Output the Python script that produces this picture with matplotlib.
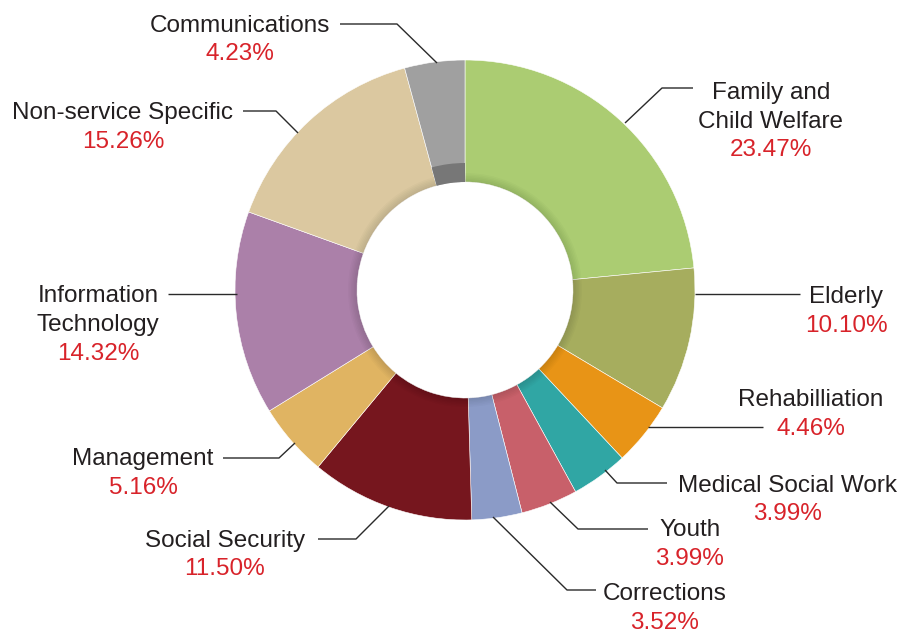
import numpy as np
import matplotlib
matplotlib.use('Agg')
import matplotlib.pyplot as plt
from matplotlib.patches import Wedge

# Data
categories = ['Family and\nChild Welfare', 'Elderly', 'Rehabilliation',
              'Medical Social Work', 'Youth', 'Corrections', 'Social Security',
              'Management', 'Information\nTechnology', 'Non-service Specific',
              'Communications']
shares = [23.47, 10.10, 4.46, 3.99, 3.99, 3.52, 11.50, 5.16, 14.32, 15.26, 4.23]
colors = ['#abcc72', '#a6ad5e', '#e89416', '#30a6a4', '#c8606a', '#8b9bc7',
          '#76161e', '#e0b462', '#ab80a9', '#dbc8a0', '#a0a0a0']

# Layout (pixel coordinates, y measured from top)
W, H = 903, 634
cx, cy = 465, 290
r_out, r_in = 230, 108
label_pos = [(771, 91), (846, 295), (811, 398), (788, 483), (690, 528),
             (665, 592), (225, 538), (143, 457), (98, 294), (123, 111),
             (240, 23)]
leaders = [
    [(625, 123), (662, 88), (693, 88)],
    [(695, 294), (800, 294)],
    [(648, 427), (763, 427)],
    [(605, 470), (617, 483), (667, 483)],
    [(550, 502), (578, 529), (648, 529)],
    [(493, 517), (567, 590), (596, 590)],
    [(389, 506), (356, 539), (318, 539)],
    [(295, 443), (279, 458), (223, 458)],
    [(237, 294), (168, 294)],
    [(298, 133), (276, 111), (243, 111)],
    [(437, 63), (397, 24), (340, 24)],
]
line_h = 28.5
fsize = 17.5
text_dy = 2.5  # matplotlib's centred bbox includes descent


def fy(y):
    return H - y


fig = plt.figure(figsize=(W / 100, H / 100), dpi=100)
ax = fig.add_axes([0, 0, 1, 1])

wedges, _ = ax.pie(shares, colors=colors, startangle=90, counterclock=False,
                   center=(cx, fy(cy)), radius=r_out,
                   wedgeprops=dict(width=r_out - r_in, linewidth=0.4,
                                   edgecolor='white'))

# soft shading near the inner edge
for k in range(6):
    ax.add_patch(Wedge((cx, fy(cy)), r_in + 1.5 + k * 1.5, 0, 360,
                       width=1.5 + k * 1.5, facecolor='black', alpha=0.02,
                       linewidth=0))

# darker inner part of the communications slice
w = wedges[-1]
ax.add_patch(Wedge((cx, fy(cy)), r_in + 19, w.theta1, w.theta2, width=19,
                   facecolor='#777777', linewidth=0))

for pts in leaders:
    xs = [p[0] for p in pts]
    ys = [fy(p[1]) for p in pts]
    ax.plot(xs, ys, color='#2a2a2a', linewidth=1.0, solid_capstyle='butt')

for name, val, (x, y) in zip(categories, shares, label_pos):
    lines = name.split('\n')
    y = y + text_dy
    for i, ln in enumerate(lines):
        ax.text(x, fy(y + i * line_h), ln, ha='center', va='center',
                fontsize=fsize, color='#231f20', family='Liberation Sans')
    ax.text(x, fy(y + len(lines) * line_h), f'{val:.2f}%', ha='center',
            va='center', fontsize=fsize, color='#d8232a',
            family='Liberation Sans')

ax.set_xlim(0, W)
ax.set_ylim(0, H)
ax.set_aspect('auto')
ax.axis('off')

fig.savefig('out.png', dpi=100)
